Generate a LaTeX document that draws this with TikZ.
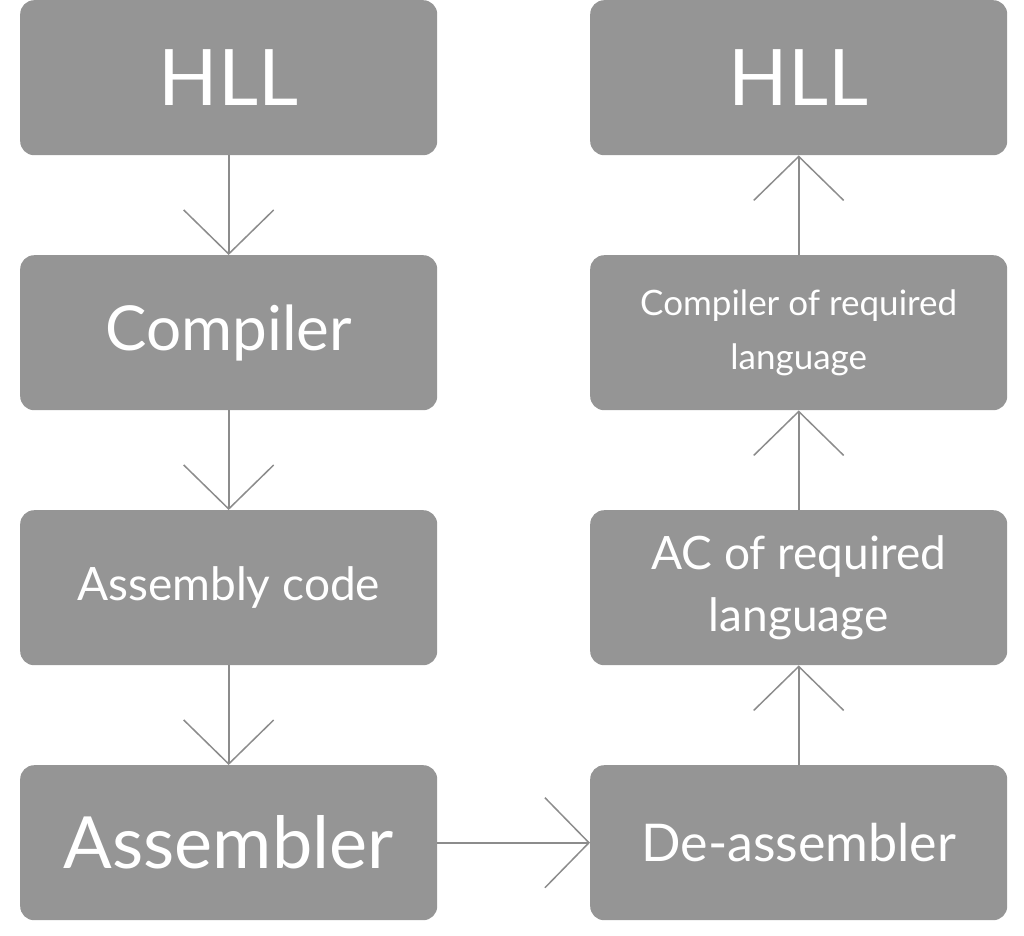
\documentclass[tikz,border=0pt]{standalone}
\usepackage{fontspec}
\setmainfont{Lato}
\usetikzlibrary{arrows.meta}
\begin{document}
\begin{tikzpicture}[x=1pt,y=-1pt,
 box/.style={fill=boxgray,rounded corners=14pt,minimum width=417pt,minimum height=155pt,text=white,inner sep=0pt,align=center,anchor=north west},
 arr/.style={draw=linegray,line width=2pt,-{Straight Barb[length=44pt,width=90pt,line width=1.5pt]}}]
\definecolor{boxgray}{HTML}{959595}
\definecolor{linegray}{HTML}{8C8C8C}
\useasboundingbox (0,0) rectangle (1024,935);
\node[box,font=\fontsize{78}{80}\selectfont] (l1) at (20,0) {HLL};
\node[box,font=\fontsize{62}{64}\selectfont] (l2) at (20,255) {Compiler};
\node[box,font=\fontsize{46}{50}\selectfont] (l3) at (20,510) {Assembly code};
\node[box,font=\fontsize{72}{74}\selectfont] (l4) at (20,765) {Assembler};
\node[box,font=\fontsize{78}{80}\selectfont] (r1) at (590,0) {HLL};
\node[box,font=\fontsize{35}{54}\selectfont] (r2) at (590,255) {Compiler of required\\language};
\node[box,font=\fontsize{46}{62}\selectfont] (r3) at (590,510) {AC of required\\language};
\node[box,font=\fontsize{52}{56}\selectfont] (r4) at (590,765) {De-assembler};
\draw[arr] (l1.south) -- (l2.north);
\draw[arr] (l2.south) -- (l3.north);
\draw[arr] (l3.south) -- (l4.north);
\draw[arr] (l4.east) -- (r4.west);
\draw[arr] (r4.north) -- (r3.south);
\draw[arr] (r3.north) -- (r2.south);
\draw[arr] (r2.north) -- (r1.south);
\end{tikzpicture}
\end{document}
